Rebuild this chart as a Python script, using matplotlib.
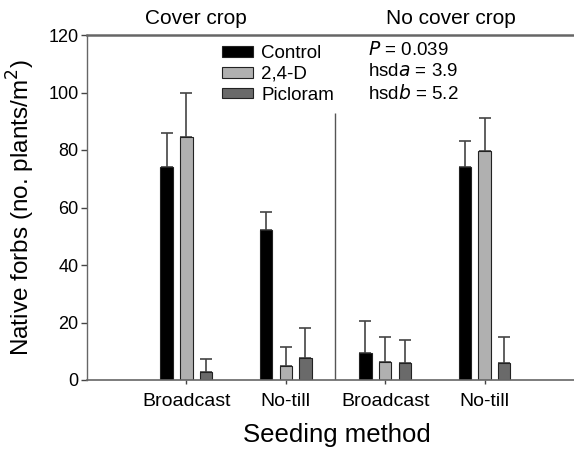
import matplotlib
matplotlib.use("Agg")
import matplotlib.pyplot as plt
import numpy as np

plt.rcParams['font.family'] = ['Liberation Sans', 'DejaVu Sans']

groups = ["Broadcast", "No-till", "Broadcast", "No-till"]
treatments = ["Control", "2,4-D", "Picloram"]
control = [74.2, 52.2, 9.3, 74.2]
control_err = [11.6, 6.1, 11.3, 8.9]
d24 = [84.6, 5.0, 6.3, 79.7]
d24_err = [15.4, 6.5, 8.8, 11.3]
picloram = [2.9, 7.8, 6.0, 6.0]
picloram_err = [4.4, 10.4, 8.0, 8.8]
panel_titles = ["Cover crop", "No cover crop"]
stats_text = ["$\\it{P}$ = 0.039", "hsd$\\it{a}$ = 3.9", "hsd$\\it{b}$ = 5.2"]
colors = ["#000000", "#b0b0b0", "#6a6a6a"]

fig = plt.figure(figsize=(5.74, 4.49), dpi=100)
ax = fig.add_axes([87/574, 69/449, 1 - 87/574, (380-35)/449])

x = np.arange(len(groups))
offset = 0.198
width = 0.126
series = [(control, control_err), (d24, d24_err), (picloram, picloram_err)]
handles = []
for i, (vals, errs) in enumerate(series):
    pos = x + (i - 1) * offset
    b = ax.bar(pos, vals, width, color=colors[i], edgecolor="#222222", linewidth=0.8,
               label=treatments[i], zorder=2)
    handles.append(b)
    ax.errorbar(pos, vals, yerr=[np.zeros(len(vals)), errs], fmt="none",
                ecolor="#444444", elinewidth=1.2, capsize=4, capthick=1.2, zorder=1)

ax.set_xlim(-1, 3.9)
ax.set_ylim(0, 120)
ax.set_yticks(np.arange(0, 121, 20))
ax.set_xticks(x)
ax.set_xticklabels(groups)
ax.tick_params(axis="y", direction="out", length=4, width=1, color="#444444", labelsize=13, pad=2)
ax.tick_params(axis="x", direction="out", length=3, width=1, color="#444444", labelsize=14, pad=6)

for s in ["left", "bottom", "top"]:
    ax.spines[s].set_color("#666666")
ax.spines["left"].set_linewidth(1.0)
ax.spines["bottom"].set_linewidth(1.2)
ax.spines["top"].set_linewidth(1.8)
ax.spines["right"].set_visible(False)

ax.vlines(1.5, 0, 93, color="#555555", linewidth=1.0)

ax.set_ylabel("Native forbs (no. plants/m$^2$)", fontsize=17.5)
ax.yaxis.set_label_coords(-(87 - 37) / 487, 0.5)
ax.set_xlabel("Seeding method", fontsize=18.5)
ax.xaxis.set_label_coords((337 - 87) / 487, -(423 - 380) / 345)

fig.text(196/574, 1 - 19/449, panel_titles[0], ha="center", va="center", fontsize=15)
fig.text(451/574, 1 - 19/449, panel_titles[1], ha="center", va="center", fontsize=15)

leg = ax.legend(handles=handles, labels=treatments, loc="upper left",
                bbox_to_anchor=((209 - 87) / 487, 1.0 + 3 / 345), frameon=False, fontsize=13.5,
                handlelength=1.65, handleheight=0.5, handletextpad=0.43,
                labelspacing=0.2, borderaxespad=0.3)
for i, t in enumerate(stats_text):
    ax.text((368 - 87) / 487, 1 - (15 + i * 21.7) / 345, t, transform=ax.transAxes,
            ha="left", va="center", fontsize=13.5)

fig.savefig("out.png", dpi=100)
